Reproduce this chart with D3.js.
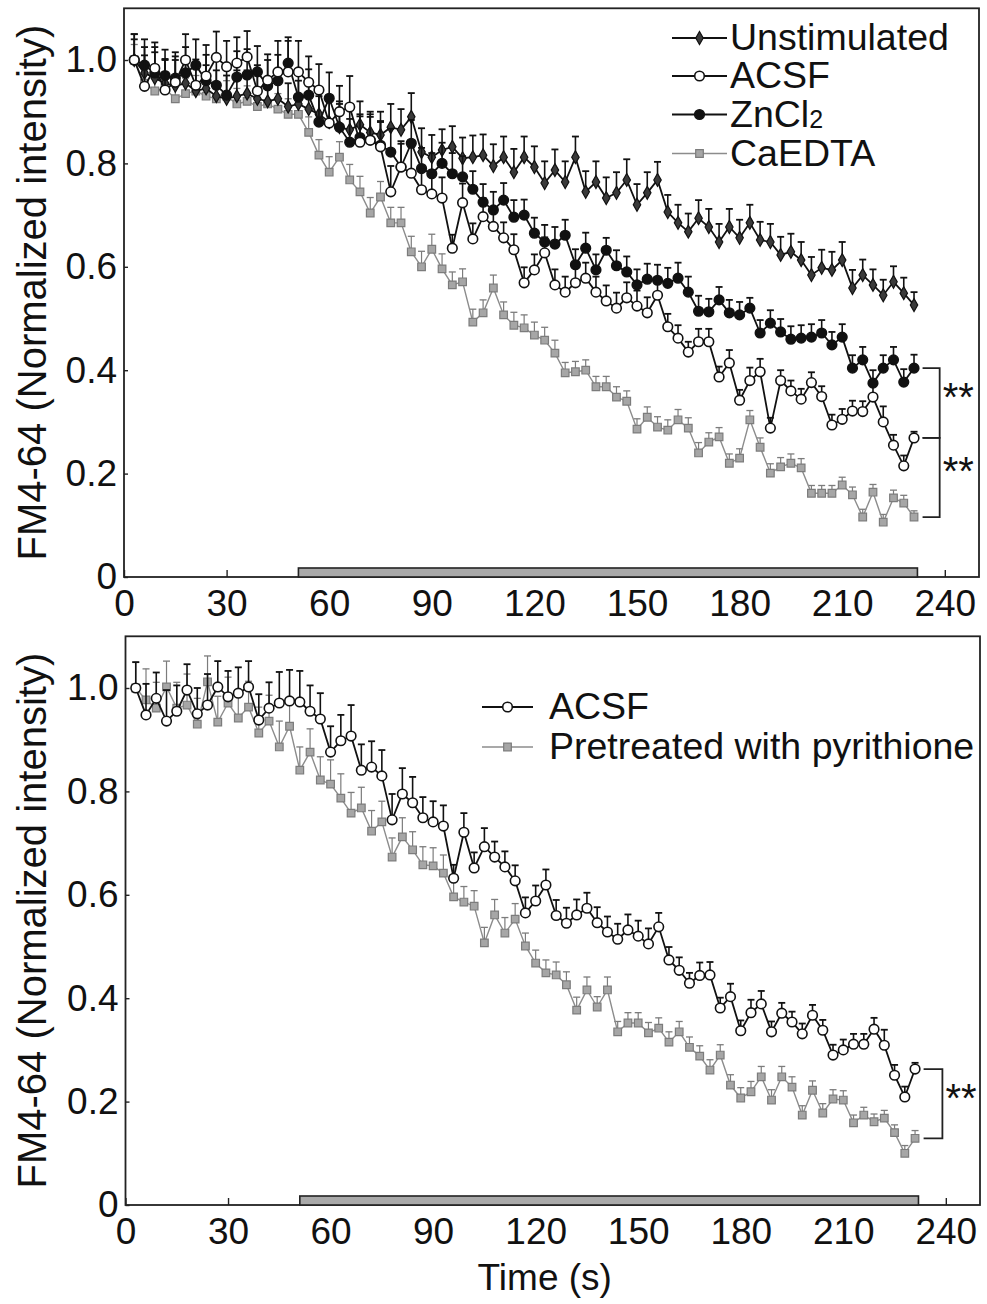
<!DOCTYPE html>
<html><head><meta charset="utf-8">
<script src="https://cdn.jsdelivr.net/npm/d3@7"></script>
<style>
html,body{margin:0;padding:0;background:#fff;}
svg text{font-family:"Liberation Sans",Arial,Helvetica,sans-serif;fill:#111;}
</style></head><body>
<svg id="chart" width="987" height="1304"></svg>
<script>
// ---------- DATA ----------
const times=[3,6,9,12,15,18,21,24,27,30,33,36,39,42,45,48,51,54,57,60,63,66,69,72,75,78,81,84,87,90,93,96,99,102,105,108,111,114,117,120,123,126,129,132,135,138,141,144,147,150,153,156,159,162,165,168,171,174,177,180,183,186,189,192,195,198,201,204,207,210,213,216,219,222,225,228,231];

const xTicks=[0,30,60,90,120,150,180,210,240];
const yTicks=[0,0.2,0.4,0.6,0.8,1.0];
const yTickLabels=["0","0.2","0.4","0.6","0.8","1.0"];
const stimulus=[51,232];

const topNames=["Unstimulated","ACSF","ZnCl2","CaEDTA"];
const bottomNames=["ACSF","Pretreated with pyrithione"];

const unstim=[1.0,0.975,0.965,0.955,0.95,0.955,0.94,0.945,0.93,0.925,0.93,0.935,0.925,0.92,0.925,0.91,0.915,0.905,0.895,0.88,0.87,0.865,0.875,0.86,0.855,0.87,0.865,
0.89,0.822,0.812,0.826,0.832,0.81,0.812,0.816,0.795,0.812,0.783,0.812,0.793,0.762,0.787,0.764,0.812,0.745,0.764,0.733,0.743,0.768,0.72,0.743,
0.768,0.706,0.685,0.668,0.694,0.677,0.648,0.677,0.656,0.685,0.652,0.648,0.623,0.629,0.613,0.584,0.598,0.594,0.613,0.559,0.584,0.565,0.545,0.571,0.549,0.526];
const unstimErr=[0.04,0.05,0.05,0.045,0.05,0.045,0.05,0.045,0.05,0.045,0.05,0.045,0.05,0.045,0.05,0.045,0.045,0.05,0.045,0.045,0.05,0.045,0.045,0.04,0.045,0.045,0.04,
0.046,0.046,0.043,0.04,0.04,0.04,0.042,0.04,0.042,0.04,0.045,0.04,0.04,0.042,0.04,0.04,0.04,0.04,0.04,0.04,0.04,0.04,0.04,0.04,
0.035,0.033,0.035,0.035,0.035,0.035,0.035,0.035,0.035,0.035,0.035,0.035,0.035,0.035,0.035,0.035,0.035,0.035,0.035,0.035,0.03,0.03,0.03,0.03,0.03,0.025];

const acsfTop=[1.0,0.949,0.984,0.942,0.957,1.0,0.951,0.969,1.005,0.987,0.994,1.006,
0.94,0.961,0.977,0.977,0.977,0.957,0.942,0.878,0.90,0.909,0.841,0.845,0.832,0.745,0.793,0.781,
0.749,0.741,0.733,0.636,0.724,0.654,0.697,0.678,0.656,0.633,0.569,0.594,0.627,0.565,0.551,0.569,0.578,0.551,0.534,0.52,0.54,0.524,0.511,
0.545,0.484,0.462,0.435,0.455,0.455,0.387,0.414,0.342,0.38,0.397,0.288,0.38,0.36,0.344,0.376,0.349,0.294,0.305,0.321,0.32,0.348,0.30,0.255,0.215,0.269];
const acsfErr=[0.05,0.06,0.05,0.06,0.05,0.05,0.05,0.06,0.05,0.05,0.05,0.05,
0.05,0.05,0.06,0.06,0.06,0.05,0.05,0.05,0.05,0.06,0.05,0.05,0.05,0.05,0.05,0.05,
0.04,0.04,0.04,0.026,0.037,0.03,0.036,0.03,0.03,0.03,0.03,0.03,0.03,0.03,0.03,0.03,0.03,0.03,0.03,0.03,0.03,0.03,0.03,
0.027,0.025,0.025,0.02,0.025,0.025,0.02,0.025,0.02,0.025,0.025,0.02,0.02,0.02,0.02,0.02,0.02,0.02,0.02,0.02,0.02,0.022,0.03,0.02,0.02,0.012];

const zncl2=[1.0,0.99,0.975,0.97,0.965,0.975,0.99,0.96,0.951,0.932,0.967,0.971,0.977,0.95,0.96,0.994,0.928,0.932,0.88,0.926,0.87,0.841,0.85,0.845,0.835,0.822,0.793,0.839,0.79,0.78,0.80,0.78,0.774,
0.75,0.725,0.71,0.729,0.696,0.70,0.665,0.648,0.644,0.661,0.604,0.636,0.594,0.632,0.602,0.59,0.565,0.576,0.574,0.568,0.578,0.551,0.514,
0.513,0.536,0.511,0.507,0.52,0.472,0.491,0.474,0.46,0.462,0.464,0.472,0.449,0.464,0.404,0.42,0.375,0.404,0.42,0.377,0.404];
const zncl2Err=[0.05,0.05,0.05,0.05,0.05,0.05,0.05,0.05,0.05,0.05,0.05,0.05,0.05,0.05,0.05,0.05,0.05,0.05,0.05,0.05,0.045,0.045,0.045,0.045,0.045,0.045,0.045,0.045,0.04,0.04,0.04,0.04,0.04,
0.035,0.035,0.035,0.033,0.033,0.03,0.03,0.033,0.033,0.03,0.03,0.03,0.03,0.024,0.03,0.03,0.03,0.03,0.03,0.03,0.03,0.03,0.03,
0.025,0.025,0.025,0.025,0.02,0.025,0.025,0.025,0.025,0.025,0.025,0.025,0.025,0.025,0.025,0.025,0.025,0.025,0.025,0.025,0.026];

const caedta=[1.0,0.955,0.94,0.945,0.925,0.935,0.94,0.93,0.925,0.93,0.915,0.92,0.91,0.915,0.905,0.895,0.895,
0.86,0.816,0.783,0.812,0.768,0.745,0.704,0.735,0.685,0.685,0.629,0.60,
0.634,0.596,0.565,0.571,0.493,0.511,0.559,0.507,0.487,0.482,0.468,0.458,0.433,0.395,0.397,0.40,0.368,0.368,0.348,0.34,0.286,0.309,0.29,0.284,0.304,0.288,0.24,
0.261,0.271,0.22,0.23,0.304,0.251,0.201,0.213,0.22,0.211,0.162,0.162,0.162,0.178,0.159,0.116,0.164,0.106,0.153,0.143,0.116];
const caedtaErr=[0.03,0.03,0.03,0.03,0.03,0.03,0.03,0.03,0.03,0.03,0.03,0.03,0.03,0.03,0.03,0.03,0.03,
0.03,0.03,0.03,0.03,0.03,0.03,0.03,0.03,0.03,0.03,0.03,0.03,
0.029,0.029,0.025,0.025,0.025,0.025,0.025,0.025,0.025,0.025,0.025,0.025,0.025,0.02,0.02,0.02,0.02,0.02,0.02,0.02,0.02,0.02,0.02,0.02,0.02,0.02,0.02,
0.018,0.018,0.018,0.018,0.018,0.018,0.018,0.018,0.018,0.018,0.015,0.015,0.015,0.015,0.015,0.015,0.015,0.015,0.015,0.015,0.012];

const acsfBottom=[1.0,0.948,0.98,0.936,0.955,0.996,0.95,0.967,1.002,0.983,0.99,1.002,0.938,0.961,0.971,0.975,0.973,0.955,0.94,0.876,0.898,0.907,0.841,0.847,0.83,0.745,0.795,0.778,
0.749,0.741,0.733,0.632,0.721,0.652,0.693,0.673,0.654,0.627,0.565,0.588,0.619,
0.56,0.545,0.561,0.574,0.546,0.528,0.514,0.532,0.52,0.505,0.538,0.474,0.454,0.429,0.444,0.445,0.381,0.403,0.337,0.372,0.389,0.335,0.371,0.354,0.331,0.367,0.338,0.29,0.30,0.311,0.311,0.34,0.309,0.251,0.209,0.263];

const pyrithione=[1.0,0.977,0.961,1.002,0.961,0.967,0.93,1.012,0.934,0.971,0.942,0.963,0.913,0.936,0.886,0.926,0.841,0.876,0.822,0.814,
0.787,0.758,0.768,0.723,0.741,0.673,0.712,0.687,0.658,0.656,0.642,0.596,0.586,0.578,0.507,0.561,0.526,0.553,0.501,0.468,
0.449,0.445,0.426,0.377,0.416,0.383,0.416,0.335,0.352,0.352,0.333,0.342,0.315,0.335,0.305,0.288,0.261,0.29,0.232,0.207,
0.219,0.248,0.203,0.248,0.228,0.174,0.222,0.178,0.205,0.203,0.159,0.174,0.161,0.168,0.14,0.10,0.129];
const pyrErr=[0.05,0.06,0.05,0.05,0.05,0.06,0.05,0.05,0.05,0.05,0.05,0.05,0.05,0.05,0.05,0.05,0.045,0.045,0.045,0.047,
0.047,0.04,0.04,0.04,0.04,0.037,0.037,0.035,0.035,0.035,0.035,0.03,0.03,0.03,0.03,0.03,0.03,0.03,0.025,0.025,
0.025,0.025,0.025,0.025,0.025,0.02,0.025,0.02,0.02,0.02,0.02,0.02,0.02,0.02,0.02,0.02,0.02,0.02,0.02,0.02,
0.02,0.02,0.02,0.02,0.02,0.018,0.018,0.018,0.018,0.018,0.015,0.015,0.015,0.015,0.015,0.015,0.015];

// ---------- DRAWING ----------
const svg=d3.select('#chart');
const BLACK="#111", GRAY_LINE="#8c8c8c", GRAY_FILL="#a6a6a6", GRAY_STROKE="#7c7c7c";
const FS=37, LFS=37.5, YLFS=40;

const styles={
  unstim:{line:BLACK,lw:1.8,err:BLACK,marker:"diamond",fill:"#3a3a3a",stroke:BLACK},
  acsf:{line:BLACK,lw:1.8,err:BLACK,marker:"circle",fill:"#fff",stroke:BLACK},
  zncl2:{line:BLACK,lw:1.8,err:BLACK,marker:"dot",fill:BLACK,stroke:BLACK},
  gray:{line:GRAY_LINE,lw:1.4,err:GRAY_STROKE,marker:"square",fill:GRAY_FILL,stroke:GRAY_STROKE}
};

function marker(sel,st,cx,cy){
  if(st.marker==="circle"||st.marker==="dot"){
    sel.append('circle').attr('cx',cx).attr('cy',cy).attr('r',4.8).attr('fill',st.fill).attr('stroke',st.stroke).attr('stroke-width',1.6);
  } else {
    const sym=d3.symbol().type(st.marker==="diamond"?d3.symbolDiamond:d3.symbolSquare).size(st.marker==="diamond"?48:58);
    sel.append('path').attr('transform',`translate(${cx},${cy})`).attr('d',sym()).attr('fill',st.fill).attr('stroke',st.stroke).attr('stroke-width',1.2);
  }
}

function drawSeries(g,x,y,vals,errs,st){
  const data=times.map((t,i)=>({t,v:vals[i],e:errs[i]}));
  const eg=g.append('g');
  data.forEach(d=>{
    const X=x(d.t), Y0=y(d.v), Y1=y(d.v+d.e);
    eg.append('line').attr('x1',X).attr('x2',X).attr('y1',Y0).attr('y2',Y1).attr('stroke',st.err).attr('stroke-width',st.line===BLACK?1.6:1.2);
    eg.append('line').attr('x1',X-3.5).attr('x2',X+3.5).attr('y1',Y1).attr('y2',Y1).attr('stroke',st.err).attr('stroke-width',st.line===BLACK?1.8:1.3);
  });
  g.append('path').datum(data).attr('fill','none').attr('stroke',st.line).attr('stroke-width',st.lw)
    .attr('d',d3.line().x(d=>x(d.t)).y(d=>y(d.v)));
  const mg=g.append('g');
  data.forEach(d=>marker(mg,st,x(d.t),y(d.v)));
}

function panel(cfg){
  const x=d3.scaleLinear().domain([0,250]).range([cfg.left,cfg.right]);
  const y=d3.scaleLinear().domain([0,1.1]).range([cfg.bottom,cfg.top]);
  const g=svg.append('g');
  const xa=g.append('g').attr('transform',`translate(0,${cfg.bottom})`)
    .call(d3.axisBottom(x).tickValues(xTicks).tickSize(-7).tickPadding(13).tickFormat(d=>String(d)));
  xa.select('.domain').remove();
  xa.selectAll('line').attr('stroke','#222').attr('stroke-width',1.4);
  xa.selectAll('text').attr('font-size',FS).attr('fill','#111').style('font-family','"Liberation Sans",Arial,sans-serif');
  const ya=g.append('g').attr('transform',`translate(${cfg.left},0)`)
    .call(d3.axisLeft(y).tickValues(yTicks).tickSize(-4).tickPadding(7).tickFormat((d,i)=>yTickLabels[i]));
  ya.select('.domain').remove();
  ya.selectAll('line').attr('stroke','#222').attr('stroke-width',1.4);
  ya.selectAll('text').attr('font-size',FS).attr('fill','#111').style('font-family','"Liberation Sans",Arial,sans-serif');
  g.append('rect').attr('x',cfg.left).attr('y',cfg.top).attr('width',cfg.right-cfg.left).attr('height',cfg.bottom-cfg.top)
    .attr('fill','none').attr('stroke','#222').attr('stroke-width',1.8);
  g.append('rect').attr('x',x(stimulus[0])).attr('y',y(0)-9).attr('width',x(stimulus[1])-x(stimulus[0])).attr('height',9)
    .attr('fill','#a9a9a9').attr('stroke','#222').attr('stroke-width',1.6);
  g.append('text').attr('transform',`translate(${cfg.ylabX},${(cfg.top+cfg.bottom)/2}) rotate(-90)`)
    .attr('text-anchor','middle').attr('font-size',YLFS).text("FM4-64 (Normalized intensity)");
  return {g,x,y};
}

function legendRow(g,st,x0,len,textX,yLine,yText,label,sub){
  g.append('line').attr('x1',x0).attr('x2',x0+len).attr('y1',yLine).attr('y2',yLine).attr('stroke',st.line).attr('stroke-width',st.lw);
  marker(g,st,x0+len/2,yLine);
  const t=g.append('text').attr('x',textX).attr('y',yText).attr('font-size',LFS).text(label);
  if(sub) t.append('tspan').attr('font-size',25).attr('dy',1).text(sub);
}

function bracket(g,x,y,t0,t1,v0,v1){
  g.append('path').attr('fill','none').attr('stroke','#222').attr('stroke-width',1.8)
    .attr('d',`M${x(t0)},${y(v0)}H${x(t1)}V${y(v1)}H${x(t0)}`);
  const mid=(y(v0)+y(v1))/2;
  g.append('text').attr('x',x(t1)+3).attr('y',mid+8).attr('font-size',40).attr('fill','#444').text("**");
}

// ---- top panel ----
const P1=panel({left:124,right:979,top:8.3,bottom:577,ylabX:46});
drawSeries(P1.g,P1.x,P1.y,caedta,caedtaErr,styles.gray);
drawSeries(P1.g,P1.x,P1.y,unstim,unstimErr,styles.unstim);
drawSeries(P1.g,P1.x,P1.y,zncl2,zncl2Err,styles.zncl2);
drawSeries(P1.g,P1.x,P1.y,acsfTop,acsfErr,styles.acsf);
const L1=P1.g.append('g');
legendRow(L1,styles.unstim,672,55,730,38,50,topNames[0]);
legendRow(L1,styles.acsf,672,55,730,76,88,topNames[1]);
legendRow(L1,styles.zncl2,672,55,730,114.5,126.5,"ZnCl","2");
legendRow(L1,styles.gray,672,55,730,153.5,165.5,topNames[3]);
bracket(P1.g,P1.x,P1.y,233.5,238.5,zncl2[76],acsfTop[76]);
bracket(P1.g,P1.x,P1.y,233.5,238.5,acsfTop[76],caedta[76]);

// ---- bottom panel ----
const P2=panel({left:125.5,right:980,top:636.3,bottom:1205,ylabX:46});
drawSeries(P2.g,P2.x,P2.y,pyrithione,pyrErr,styles.gray);
drawSeries(P2.g,P2.x,P2.y,acsfBottom,acsfErr,styles.acsf);
const L2=P2.g.append('g');
legendRow(L2,styles.acsf,482,51,549,707,719,bottomNames[0]);
legendRow(L2,styles.gray,482,51,549,747,759,bottomNames[1]);
bracket(P2.g,P2.x,P2.y,233.5,239,acsfBottom[76],pyrithione[76]);

svg.append('text').attr('x',(125.5+980)/2-8).attr('y',1290).attr('text-anchor','middle').attr('font-size',FS).text("Time (s)");
</script>
</body></html>
